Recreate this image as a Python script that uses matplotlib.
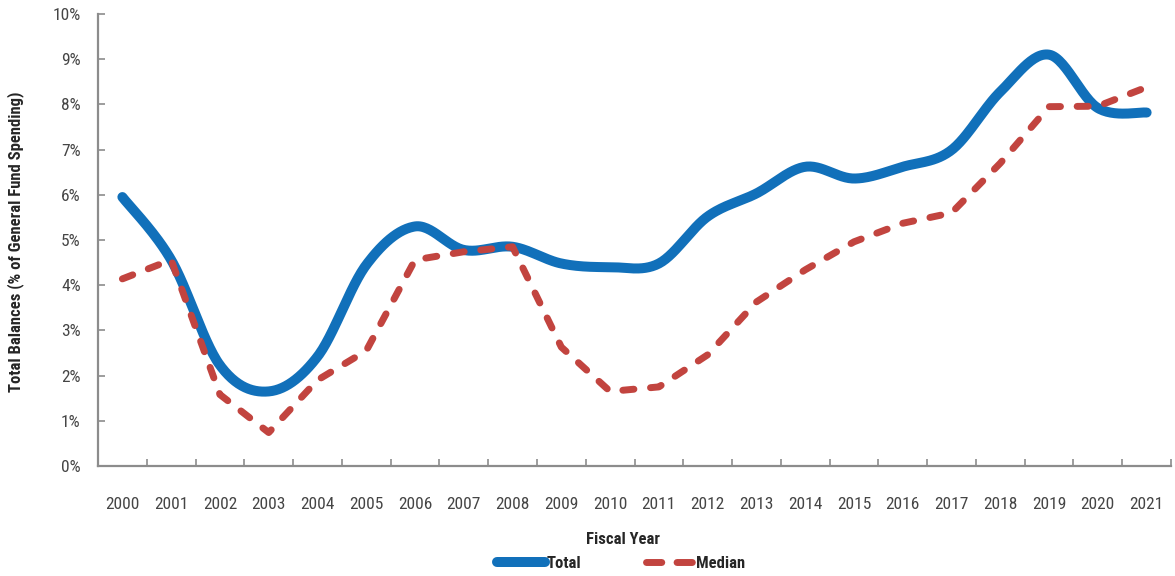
import numpy as np
import matplotlib
matplotlib.use("Agg")
import matplotlib.pyplot as plt
from matplotlib.lines import Line2D

years = [str(y) for y in range(2000, 2022)]
total = [5.95, 4.56, 2.23, 1.65, 2.42, 4.45, 5.30, 4.78, 4.85, 4.48, 4.40,
         4.48, 5.52, 6.03, 6.62, 6.36, 6.62, 6.99, 8.28, 9.10, 7.92, 7.82]
median = [4.14, 4.56, 1.58, 0.74, 1.90, 2.55, 4.56, 4.74, 4.85, 2.63, 1.65,
          1.75, 2.46, 3.63, 4.34, 4.96, 5.37, 5.60, 6.70, 7.95, 7.96, 8.38]
y_ticks = [0, 1, 2, 3, 4, 5, 6, 7, 8, 9, 10]

BLUE = "#1170BA"
RED = "#C2443F"
AXIS_GREY = "#8C8C8C"
TEXT_GREY = "#454545"
TEXT_DARK = "#262626"

plt.rcParams["font.family"] = ["Roboto Condensed", "Liberation Sans", "DejaVu Sans"]


def smooth(xs, ys, steps=30):
    """Cubic Bezier smoothing through every point (Catmull-Rom style)."""
    p = np.column_stack([xs, ys]).astype(float)
    p_ext = np.vstack([p[0], p, p[-1]])
    out = []
    t = np.linspace(0, 1, steps)[:, None]
    for i in range(len(p) - 1):
        p0, p1, p2, p3 = p_ext[i], p_ext[i + 1], p_ext[i + 2], p_ext[i + 3]
        c1 = p1 + (p2 - p0) / 6.0
        c2 = p2 - (p3 - p1) / 6.0
        seg = ((1 - t) ** 3) * p1 + 3 * ((1 - t) ** 2) * t * c1 \
            + 3 * (1 - t) * t ** 2 * c2 + t ** 3 * p2
        out.append(seg if i == 0 else seg[1:])
    out = np.vstack(out)
    return out[:, 0], out[:, 1]


fig = plt.figure(figsize=(11.75, 5.76), dpi=100)
ax = fig.add_axes([98 / 1175, 110 / 576, (1171 - 98) / 1175, (466 - 14) / 576])

x = np.arange(len(years))
sx, sy = smooth(x, total)
ax.plot(sx, sy, color=BLUE, lw=7.2, solid_capstyle="round", label="Total", zorder=2)
ax.plot(x, median, color=RED, lw=5.0, dashes=(1.6, 2.4), dash_capstyle="round",
        solid_joinstyle="round", label="Median", zorder=3)

ax.set_xlim(-0.5, len(years) - 0.5)
ax.set_ylim(0, 10)

ax.set_yticks(y_ticks)
ax.set_yticklabels([f"{v}%" for v in y_ticks])
ax.set_xticks(np.arange(-0.5, len(years), 1.0))
ax.set_xticklabels([])
ax.set_xticks(x, minor=True)
ax.set_xticklabels(years, minor=True)

ax.tick_params(axis="x", which="major", direction="in", length=5, width=1.2,
               color=AXIS_GREY)
ax.tick_params(axis="x", which="minor", length=0, pad=22, labelsize=12.5,
               labelcolor=TEXT_GREY)
ax.tick_params(axis="y", direction="in", length=5, width=1.2, color=AXIS_GREY,
               pad=12.5, labelsize=12.5, labelcolor=TEXT_GREY)

for side in ("top", "right"):
    ax.spines[side].set_visible(False)
for side in ("left", "bottom"):
    ax.spines[side].set_color(AXIS_GREY)
    ax.spines[side].set_linewidth(1.6)

fig.text(16 / 1175, 1 - 242 / 576, "Total Balances (% of General Fund Spending)",
         rotation=90, ha="center", va="center", fontsize=12,
         fontweight="bold", color=TEXT_DARK)
fig.text(623 / 1175, 1 - 540 / 576, "Fiscal Year", ha="center", va="center",
         fontsize=12, fontweight="bold", color=TEXT_DARK)

handles = [
    Line2D([], [], color=BLUE, lw=7.2, solid_capstyle="round"),
    Line2D([], [], color=RED, lw=5.0, dashes=(2.2, 2.2), dash_capstyle="round"),
]
fig.legend(handles, ["Total", "Median"], loc="center", ncol=2,
           bbox_to_anchor=(621 / 1175, 1 - 563 / 576), frameon=False,
           handlelength=2.85, handletextpad=0.12, columnspacing=3.9,
           prop={"size": 12, "weight": "bold"}, labelcolor=TEXT_DARK,
           borderpad=0, borderaxespad=0)

fig.savefig("out.png", dpi=100)
